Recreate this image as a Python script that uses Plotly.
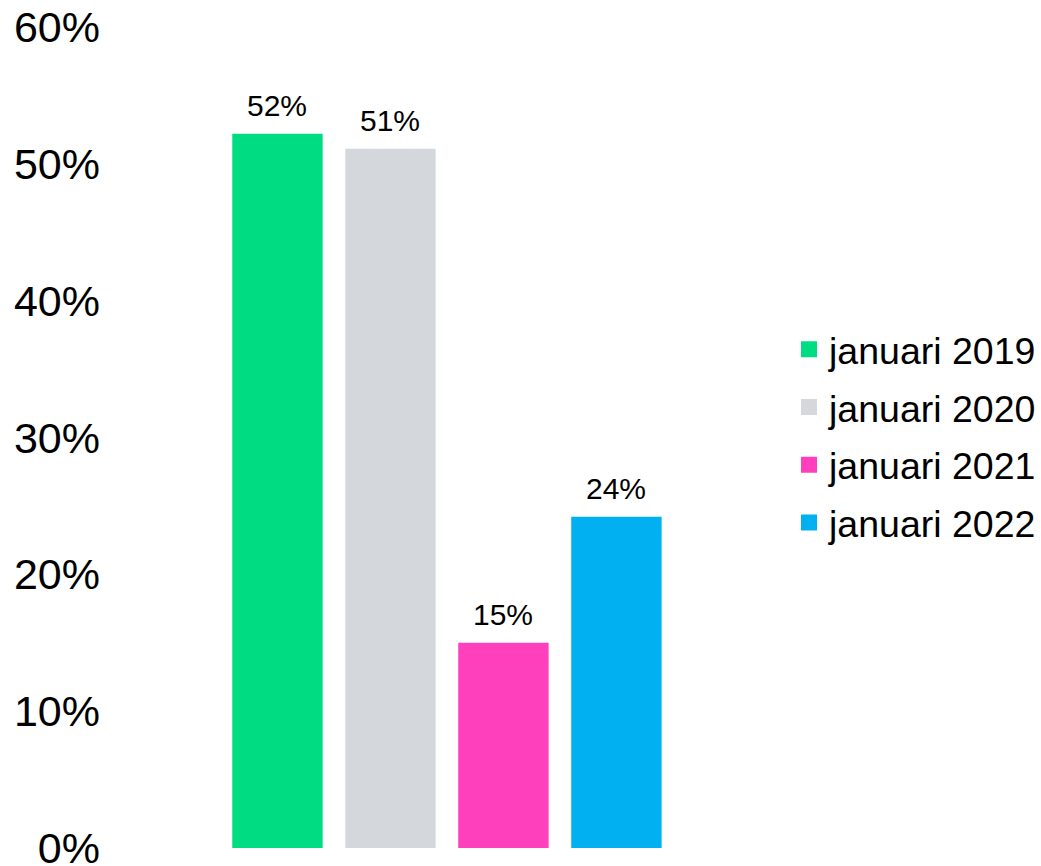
import plotly.graph_objects as go

series_names = ["januari 2019", "januari 2020", "januari 2021", "januari 2022"]
values = [52.2, 51.1, 15.0, 24.2]          # bar heights
value_labels = ["52%", "51%", "15%", "24%"]
colors = ["#00DC82", "#D4D7DC", "#FF40BC", "#00B0F0"]
y_ticks = [0, 10, 20, 30, 40, 50, 60]
y_tick_labels = ["0%", "10%", "20%", "30%", "40%", "50%", "60%"]

FONT = "Liberation Sans, Arial, sans-serif"

fig = go.Figure()
for name, v, lab, c in zip(series_names, values, value_labels, colors):
    fig.add_trace(go.Bar(
        x=[name], y=[v], name=name, marker_color=c, marker_line_width=0,
        showlegend=False, legendgroup=name,
    ))
    fig.add_annotation(
        x=name, y=v, xref="x", yref="y", text=lab, showarrow=False,
        yanchor="bottom", yshift=10,
        font=dict(size=30, color="#000000", family=FONT),
    )
for name, c in zip(series_names, colors):
    fig.add_trace(go.Scatter(
        x=[None], y=[None], mode="markers", name=name, legendgroup=name,
        marker=dict(symbol="square", size=20, color=c), showlegend=True,
    ))

FW, FH = 1041, 866
L, W = 110, 674
T, B = 27, 17.5
fig.update_layout(
    width=FW, height=FH,
    margin=dict(l=L, r=FW - L - W, t=T, b=B, autoexpand=False),
    paper_bgcolor="white", plot_bgcolor="white",
    bargap=0.2,
    font=dict(family=FONT, color="#000000"),
    showlegend=True,
    legend=dict(
        x=(789 - L) / W, xanchor="left", y=0.502, yanchor="middle",
        font=dict(size=37.5, family=FONT, color="#000000"),
        tracegroupgap=6, itemsizing="trace",
        bgcolor="rgba(0,0,0,0)",
    ),
    xaxis=dict(type="category", range=[-1.482, 4.483], showticklabels=False,
               showgrid=False, zeroline=False, showline=False, ticks="", automargin=False),
    yaxis=dict(
        range=[0, 60], tickvals=y_ticks, ticktext=y_tick_labels,
        showgrid=False, zeroline=False, showline=False, ticks="",
        tickfont=dict(size=43, family=FONT, color="#000000"),
        ticklabelstandoff=9, automargin=False, ticklabeloverflow="allow",
    ),
)

# remove the default 8px page margin so the figure fills the window exactly
fig.write_html(
    "out.html",
    config={"displayModeBar": False},
    post_script="document.body.style.margin='0';document.body.style.overflow='hidden';",
)
